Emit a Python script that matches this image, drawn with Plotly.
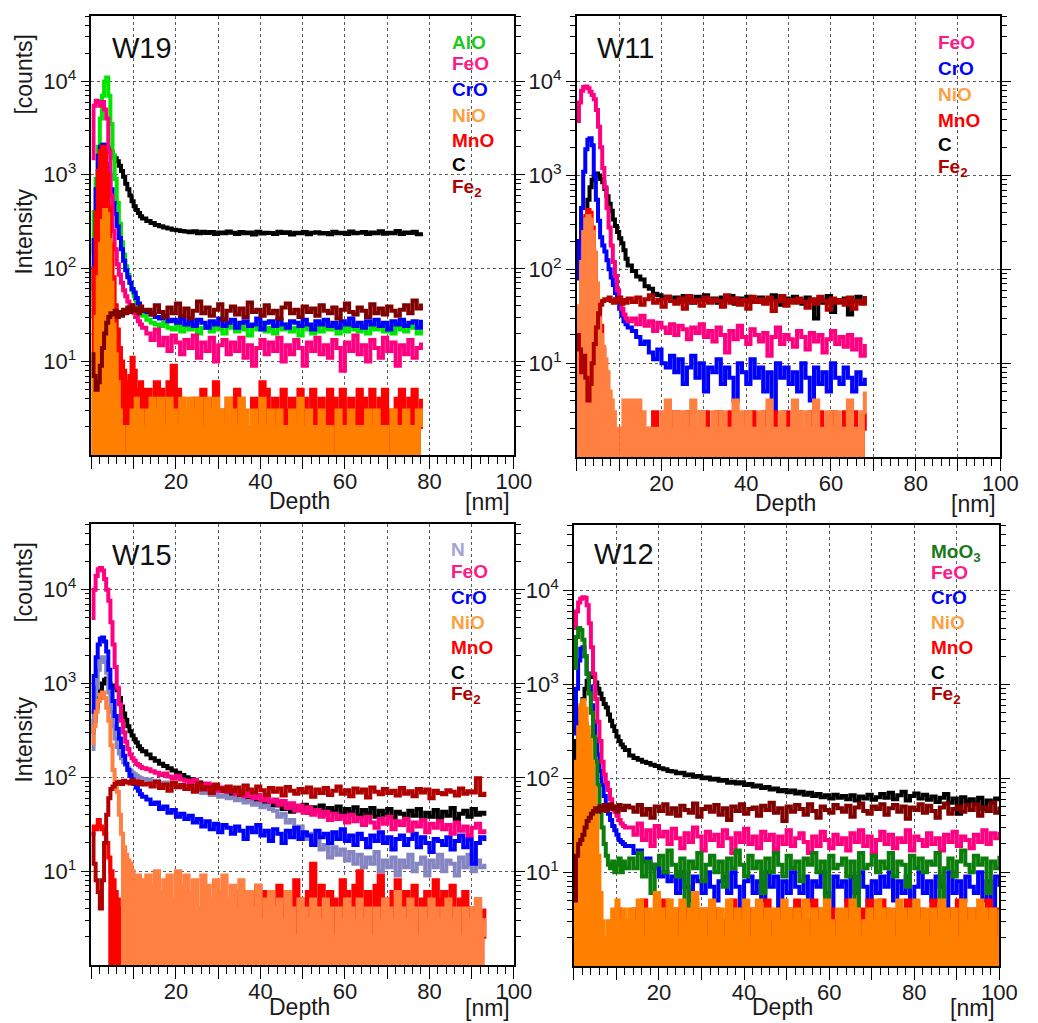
import numpy as np
import plotly.graph_objects as go

W, H = 1038, 1023


def depth_grid(end):
    # 0.5 nm sampling through the surface peak, 1 nm sampling in the bulk
    return np.concatenate([np.arange(0, 12.5, 0.5), np.arange(13, end + 1, 1.0)])


# ---------------- W19 ----------------
W19_DEPTH = depth_grid(78)
W19_ALO = [
    150, 400, 900, 2000, 4000, 7000, 10000, 11000, 7000, 3500, 1600, 900, 500,
    300, 190, 140, 105, 85, 70, 58, 50, 44, 38, 34, 31,
    28, 26, 25, 24, 26, 23, 22, 25, 21, 24,
    22, 25, 20, 23, 24, 21, 26, 22, 20, 24,
    23, 21, 25, 22, 19, 24, 22, 26, 21, 23,
    20, 24, 22, 25, 21, 23, 19, 24, 22, 20,
    25, 21, 23, 22, 24, 20, 23, 21, 25, 22,
    21, 24, 20, 23, 22, 25, 21, 23, 20, 24,
    22, 21, 24, 23, 20, 22,
]
W19_FEO = [
    1500, 5500, 6200, 6000, 5500, 6000, 5000, 4000, 1800, 600, 250, 160, 110,
    85, 70, 58, 50, 44, 40, 36, 33, 30, 27, 25, 23,
    20, 17, 22, 15, 18, 13, 19, 16, 12, 17,
    14, 19, 11, 16, 13, 18, 10, 15, 17, 12,
    16, 13, 18, 11, 15, 9, 14, 17, 12, 16,
    13, 18, 10, 15, 12, 17, 14, 9, 16, 13,
    18, 12, 15, 11, 17, 14, 8, 16, 13, 19,
    12, 15, 10, 17, 14, 11, 18, 13, 16, 9,
    15, 12, 17, 11, 14, 16,
]
W19_CRO = [
    60, 200, 700, 1600, 2000, 2100, 1800, 1300, 1000, 700, 500, 380, 280,
    210, 160, 120, 95, 80, 70, 60, 55, 48, 42, 38, 35,
    34, 32, 30, 29, 31, 27, 28, 26, 29, 25,
    27, 24, 28, 26, 23, 27, 25, 29, 24, 26,
    28, 23, 26, 27, 24, 25, 29, 22, 26, 27,
    24, 28, 25, 23, 27, 26, 24, 28, 25, 22,
    27, 25, 28, 24, 26, 23, 27, 25, 29, 24,
    26, 23, 27, 25, 28, 24, 26, 22, 27, 25,
    28, 24, 26, 27, 23, 28,
]
W19_NIO = [
    3, 10, 30, 80, 180, 320, 420, 380, 200, 70, 25, 12, 6,
    3, 2, 1, 1, 2, 1, 3, 2, 4, 2, 3, 2,
    3, 4, 3, 4, 2, 4, 3, 2, 4, 3,
    4, 3, 4, 2, 4, 3, 4, 3, 2, 4,
    3, 2, 4, 3, 2, 3, 2, 4, 2, 3,
    2, 3, 2, 2, 3, 2, 4, 2, 3, 2,
    2, 3, 2, 2, 1, 3, 2, 2, 3, 2,
    2, 2, 3, 2, 3, 2, 2, 1, 3, 2,
    2, 3, 2, 2, 3, 2,
]
W19_MNO = [
    20, 100, 400, 1100, 1800, 2000, 1700, 1000, 450, 180, 80, 40, 22,
    14, 10, 8, 6, 5, 7, 11, 8, 5, 4, 6, 5,
    5, 4, 6, 5, 4, 6, 9, 5, 4, 3,
    1, 4, 3, 5, 3, 4, 6, 3, 2, 4,
    3, 5, 4, 2, 1, 4, 3, 6, 5, 3,
    4, 2, 5, 3, 4, 1, 5, 4, 3, 5,
    3, 4, 2, 5, 4, 3, 5, 1, 4, 3,
    5, 4, 3, 5, 2, 4, 5, 3, 1, 4,
    5, 3, 4, 5, 2, 4,
]
W19_C = [
    30, 100, 300, 700, 1200, 1800, 2100, 2000, 1900, 1750, 1600, 1500, 1400,
    1250, 1100, 950, 800, 700, 600, 520, 460, 420, 390, 360, 340,
    320, 305, 290, 282, 272, 266, 258, 255, 250, 247,
    242, 248, 236, 245, 238, 244, 233, 241, 236, 247,
    239, 232, 244, 237, 241, 230, 246, 235, 240, 238,
    233, 245, 238, 242, 229, 240, 236, 244, 231, 239,
    242, 235, 238, 231, 245, 237, 240, 233, 247, 236,
    239, 244, 232, 241, 236, 248, 234, 240, 237, 250,
    233, 241, 238, 246, 231, 243,
]
W19_FE2 = [
    12, 7, 5, 6, 9, 14, 20, 26, 30, 33, 32, 35, 30,
    34, 31, 36, 33, 38, 34, 40, 35, 37, 33, 39, 35,
    36, 32, 40, 34, 30, 38, 33, 42, 31, 37,
    29, 35, 44, 33, 38, 31, 36, 41, 28, 35,
    39, 32, 37, 30, 43, 34, 36, 31, 40, 33,
    35, 29, 38, 42, 33, 36, 30, 39, 34, 37,
    31, 40, 35, 33, 38, 29, 36, 42, 34, 32,
    38, 35, 30, 41, 33, 37, 32, 39, 35, 31,
    36, 40, 33, 45, 37, 42,
]

# ---------------- W11 ----------------
W11_DEPTH = depth_grid(68)
W11_FEO = [
    3800, 6000, 8000, 8800, 8900, 8500, 7800, 7200, 6500, 5000, 3300, 2000, 1200,
    750, 450, 280, 180, 120, 85, 60, 45, 38, 33, 30, 28,
    30, 26, 32, 25, 28, 22, 27, 24, 21, 26,
    20, 25, 23, 18, 24, 21, 26, 19, 22, 17,
    24, 20, 13, 22, 18, 25, 19, 16, 23, 20,
    17, 21, 12, 19, 24, 16, 20, 18, 15, 22,
    19, 14, 21, 17, 20, 13, 18, 22, 16, 19,
    15, 20, 14, 18, 12, 16,
]
W11_CRO = [
    80, 200, 450, 1100, 1900, 2400, 2500, 2100, 1000, 550, 330, 220, 180,
    155, 125, 100, 82, 68, 56, 46, 38, 32, 28, 26, 24,
    22, 19, 16, 17, 13, 11, 14, 10, 9, 12,
    8, 11, 6, 9, 12, 7, 10, 5, 9, 8,
    11, 6, 9, 7, 4, 10, 8, 6, 11, 7,
    9, 5, 8, 3, 10, 7, 9, 6, 8, 5,
    10, 7, 4, 9, 6, 8, 5, 10, 7, 6,
    9, 7, 5, 8, 6, 7,
]
W11_NIO = [
    10, 40, 120, 250, 340, 370, 340, 250, 150, 70, 30, 20, 15,
    11, 8, 5, 4, 3, 2, 1, 1, 2, 4, 3, 4,
    4, 4, 3, 2, 2, 2, 2, 3, 4, 2,
    3, 2, 3, 2, 4, 2, 3, 2, 2, 3,
    2, 3, 2, 2, 4, 3, 2, 3, 2, 2,
    3, 2, 4, 2, 2, 3, 2, 2, 4, 3,
    2, 3, 2, 4, 2, 2, 3, 2, 3, 2,
    2, 4, 2, 2, 3, 5,
]
W11_MNO = [
    8, 30, 100, 230, 370, 430, 400, 280, 150, 70, 45, 25, 14,
    8, 4, 2, 1, 1, 1, 1, 1, 2, 2, 2, 2,
    2, 3, 2, 1, 2, 3, 2, 2, 3, 2,
    3, 2, 2, 3, 2, 2, 3, 3, 2, 2,
    3, 2, 2, 3, 2, 2, 2, 3, 3, 2,
    2, 3, 2, 3, 2, 2, 3, 2, 2, 3,
    2, 2, 3, 2, 3, 2, 2, 3, 2, 2,
    3, 2, 3, 2, 2, 3,
]
W11_C = [
    15, 40, 100, 200, 350, 550, 750, 900, 1000, 1050, 1000, 920, 850,
    720, 600, 500, 420, 340, 290, 250, 215, 190, 160, 130, 110,
    96, 84, 78, 66, 62, 55, 53, 49, 51, 46,
    50, 45, 52, 47, 44, 51, 48, 53, 46, 49,
    44, 50, 47, 52, 43, 49, 46, 51, 45, 48,
    50, 44, 48, 53, 46, 42, 49, 45, 51, 47,
    43, 50, 46, 30, 48, 44, 52, 35, 47, 45,
    49, 33, 46, 51, 44, 52,
]
W11_FE2 = [
    20, 14, 8, 12, 7, 4, 6, 10, 16, 24, 34, 42, 46,
    48, 47, 50, 46, 44, 48, 45, 50, 43, 47, 44, 49,
    45, 50, 42, 48, 53, 44, 47, 40, 51, 46,
    43, 49, 38, 52, 45, 47, 41, 50, 44, 48,
    46, 40, 53, 44, 49, 42, 47, 38, 51, 45,
    48, 43, 50, 36, 46, 52, 41, 47, 44, 49,
    45, 39, 48, 43, 51, 46, 37, 49, 44, 47,
    42, 50, 38, 46, 43, 52,
]

# ---------------- W15 ----------------
W15_DEPTH = depth_grid(93)
W15_N = [
    200, 500, 900, 1400, 1800, 1900, 1700, 1300, 800, 500, 350, 260, 210,
    180, 160, 145, 135, 125, 118, 112, 108, 104, 100, 98, 96,
    95, 90, 92, 86, 88, 82, 84, 78, 80, 75,
    77, 72, 74, 68, 70, 65, 67, 62, 64, 60,
    61, 57, 59, 54, 56, 51, 53, 48, 50, 46,
    44, 38, 41, 33, 35, 27, 30, 22, 25, 19,
    21, 17, 19, 14, 18, 15, 17, 13, 16, 12,
    15, 11, 14, 12, 16, 10, 13, 11, 14, 9,
    13, 11, 15, 10, 12, 14, 9, 13, 11, 15,
    10, 13, 12, 9, 14, 11, 15, 10, 13, 11,
    12,
]
W15_FEO = [
    5000, 10000, 14000, 16500, 17000, 16000, 13000, 10000, 7600, 4500, 2600, 1500, 900,
    600, 400, 300, 240, 200, 175, 160, 150, 140, 135, 130, 125,
    122, 116, 112, 106, 110, 102, 98, 104, 95, 92,
    88, 94, 84, 80, 86, 76, 82, 72, 78, 70,
    74, 66, 71, 63, 68, 60, 65, 57, 62, 55,
    58, 51, 56, 47, 53, 44, 50, 42, 48, 40,
    45, 38, 43, 35, 41, 36, 39, 33, 40, 34,
    37, 31, 38, 33, 29, 36, 32, 38, 28, 34,
    31, 36, 27, 33, 30, 35, 26, 32, 29, 34,
    28, 31, 25, 33, 27, 30, 24, 29, 32, 26,
    28,
]
W15_CRO = [
    500, 1200, 1900, 2600, 3000, 3100, 2800, 2200, 1400, 900, 650, 450, 330,
    260, 210, 170, 140, 120, 105, 95, 85, 78, 72, 66, 62,
    58, 52, 54, 46, 49, 42, 45, 38, 41, 36,
    39, 33, 36, 30, 34, 28, 32, 26, 31, 29,
    25, 30, 27, 22, 29, 26, 31, 24, 27, 21,
    28, 25, 20, 27, 23, 29, 22, 26, 24, 19,
    27, 23, 25, 20, 26, 22, 28, 21, 24, 19,
    25, 22, 18, 24, 21, 26, 20, 23, 17, 22,
    24, 19, 22, 25, 18, 23, 20, 16, 22, 21,
    19, 23, 17, 21, 24, 18, 22, 12, 20, 23,
    21,
]
W15_NIO = [
    230, 350, 500, 650, 760, 800, 700, 550, 400, 220, 120, 90, 70,
    40, 25, 18, 15, 13, 12, 10, 9, 8, 9, 7, 8,
    9, 7, 10, 6, 8, 9, 5, 10, 7, 9,
    6, 8, 4, 9, 7, 5, 8, 6, 9, 5,
    7, 4, 8, 5, 6, 4, 7, 3, 5, 6,
    4, 5, 3, 6, 4, 2, 5, 4, 3, 5,
    4, 3, 5, 4, 2, 4, 3, 5, 4, 3,
    5, 3, 4, 2, 4, 3, 5, 4, 3, 6,
    4, 3, 5, 4, 2, 4, 3, 5, 4, 3,
    4, 5, 3, 4, 2, 4, 3, 4, 5, 3,
    2,
]
W15_MNO = [
    25, 30, 28, 35, 30, 28, 25, 20, 14, 10, 8, 6, 5,
    4, 3, 8, 4, 2, 3, 7, 3, 2, 1, 3, 2,
    4, 3, 5, 2, 4, 1, 3, 5, 2, 1,
    3, 1, 4, 2, 1, 3, 5, 2, 4, 3,
    5, 3, 6, 4, 2, 5, 7, 4, 6, 3,
    5, 7, 4, 6, 3, 8, 5, 4, 6, 12,
    5, 7, 4, 6, 5, 3, 8, 6, 4, 7,
    10, 5, 6, 4, 7, 9, 5, 3, 6, 8,
    4, 6, 5, 7, 3, 5, 6, 4, 8, 5,
    6, 4, 7, 3, 5, 6, 4, 3, 5, 2,
    4,
]
W15_C = [
    300, 400, 550, 700, 850, 1000, 1100, 1130, 1000, 950, 950, 900, 850,
    700, 570, 480, 410, 350, 310, 280, 255, 235, 215, 200, 190,
    175, 160, 150, 140, 132, 125, 118, 112, 106, 100,
    96, 92, 88, 85, 82, 78, 76, 73, 71, 69,
    66, 64, 62, 60, 58, 57, 55, 54, 52, 51,
    50, 55, 46, 52, 43, 49, 45, 51, 42, 48,
    44, 50, 41, 47, 43, 49, 40, 46, 42, 48,
    39, 45, 41, 47, 38, 44, 40, 46, 37, 43,
    41, 36, 44, 39, 46, 35, 42, 38, 45, 37,
    43, 39, 47, 36, 41, 44, 38, 46, 40, 42,
    39,
]
W15_FE2 = [
    25, 12, 8, 6, 4, 8, 20, 40, 60, 75, 80, 85, 88,
    90, 85, 92, 88, 90, 86, 93, 87, 91, 85, 89, 84,
    86, 80, 90, 77, 84, 72, 88, 79, 83, 75,
    81, 70, 86, 74, 79, 68, 84, 76, 72, 80,
    71, 78, 66, 82, 74, 69, 80, 73, 65, 77,
    70, 76, 64, 79, 72, 67, 75, 69, 78, 62,
    74, 68, 77, 65, 72, 80, 67, 73, 63, 76,
    69, 74, 61, 78, 70, 66, 75, 68, 72, 64,
    77, 67, 71, 63, 75, 69, 74, 60, 72, 68,
    66, 73, 70, 64, 76, 67, 71, 69, 98, 65,
    70,
]

# ---------------- W12 ----------------
W12_DEPTH = depth_grid(100)
W12_MOO3 = [
    1500, 3200, 4000, 3800, 3000, 2000, 1300, 800, 500, 280, 150, 85, 50,
    30, 20, 15, 12, 11, 13, 10, 12, 14, 10, 13, 11,
    14, 11, 16, 9, 13, 6, 12, 15, 10, 17,
    12, 9, 14, 2, 13, 11, 16, 8, 12, 15,
    10, 13, 7, 14, 11, 17, 12, 9, 15, 11,
    13, 6, 14, 10, 16, 12, 9, 15, 11, 13,
    8, 14, 12, 16, 10, 13, 5, 15, 11, 12,
    14, 9, 13, 4, 16, 11, 12, 15, 10, 13,
    11, 16, 9, 13, 12, 7, 15, 11, 14, 10,
    13, 12, 16, 2, 11, 14, 9, 13, 17, 12,
    10, 15, 12, 14, 6, 13, 11, 15,
]
W12_FEO = [
    4000, 6000, 7500, 8200, 8500, 8400, 7000, 4500, 2500, 1300, 700, 400, 250,
    150, 110, 90, 75, 60, 50, 44, 40, 36, 33, 31, 30,
    30, 25, 33, 22, 28, 19, 31, 24, 27, 20,
    29, 23, 18, 26, 21, 30, 24, 17, 27, 22,
    25, 19, 28, 23, 16, 26, 21, 29, 20, 24,
    18, 27, 22, 25, 17, 24, 20, 28, 19, 23,
    26, 21, 16, 24, 19, 27, 22, 18, 25, 20,
    23, 17, 26, 21, 28, 19, 24, 16, 22, 27,
    20, 25, 18, 23, 21, 28, 17, 24, 22, 19,
    26, 20, 23, 17, 25, 21, 27, 19, 24, 22,
    18, 25, 21, 28, 20, 26, 23, 27,
]
W12_CRO = [
    300, 900, 1800, 2400, 2500, 2000, 1300, 950, 600, 400, 260, 180, 120,
    85, 65, 50, 42, 36, 31, 28, 25, 22, 21, 20, 19,
    19, 16, 17, 13, 14, 11, 12, 9, 10, 8,
    9, 6, 10, 7, 5, 9, 8, 6, 10, 7,
    5, 8, 9, 6, 10, 7, 4, 8, 9, 6,
    8, 5, 10, 7, 9, 4, 8, 6, 10, 7,
    6, 9, 5, 8, 7, 10, 6, 4, 9, 7,
    8, 5, 9, 6, 10, 7, 4, 8, 6, 9,
    7, 10, 5, 8, 6, 9, 4, 7, 10, 6,
    8, 5, 9, 7, 4, 10, 6, 8, 5, 9,
    7, 6, 10, 5, 8, 4, 9, 7,
]
W12_NIO = [
    40, 150, 350, 600, 680, 550, 350, 250, 150, 80, 40, 15, 6,
    3, 1, 2, 3, 1, 4, 2, 5, 3, 2, 4, 3,
    4, 3, 5, 2, 4, 3, 6, 4, 3, 5,
    4, 2, 5, 3, 4, 6, 3, 4, 2, 5,
    3, 4, 2, 5, 3, 4, 3, 5, 2, 4,
    5, 3, 4, 2, 4, 3, 5, 4, 3, 4,
    3, 5, 2, 4, 3, 4, 5, 3, 2, 4,
    4, 3, 5, 4, 2, 3, 4, 3, 5, 4,
    3, 4, 2, 5, 4, 3, 4, 5, 3, 4,
    2, 4, 3, 5, 4, 3, 4, 2, 5, 3,
    4, 3, 5, 4, 3, 4, 2, 4,
]
W12_MNO = [
    10, 40, 110, 230, 350, 380, 280, 150, 70, 30, 12, 5, 2,
    1, 1, 1, 2, 1, 3, 1, 2, 4, 2, 1, 3,
    3, 4, 2, 5, 3, 2, 4, 3, 5, 2,
    3, 4, 2, 4, 3, 5, 2, 4, 3, 3,
    4, 2, 3, 4, 5, 2, 4, 3, 4, 2,
    3, 4, 5, 3, 2, 4, 3, 2, 4, 5,
    4, 2, 3, 5, 4, 2, 3, 4, 3, 2,
    3, 5, 2, 3, 4, 2, 5, 4, 3, 5,
    4, 2, 3, 4, 2, 5, 3, 2, 4, 3,
    3, 5, 4, 2, 3, 4, 3, 5, 2, 4,
    3, 4, 2, 3, 5, 3, 4, 2,
]
W12_C = [
    150, 250, 400, 550, 700, 900, 1100, 1250, 1300, 1200, 1050, 900, 800,
    700, 620, 570, 480, 410, 360, 320, 280, 250, 230, 215, 200,
    175, 165, 158, 150, 146, 140, 135, 128, 125, 120,
    118, 113, 115, 108, 110, 104, 106, 100, 102, 97,
    99, 94, 96, 90, 92, 88, 91, 85, 87, 82,
    84, 79, 81, 76, 78, 73, 75, 71, 74, 69,
    72, 67, 70, 65, 68, 63, 66, 61, 67, 62,
    65, 60, 66, 58, 64, 61, 67, 59, 63, 68,
    62, 70, 60, 66, 72, 58, 65, 69, 61, 67,
    59, 64, 56, 62, 68, 55, 61, 42, 63, 57,
    60, 54, 62, 47, 58, 55, 61, 57,
]
W12_FE2 = [
    5, 15, 20, 22, 25, 30, 35, 38, 42, 45, 48, 44, 50,
    46, 52, 45, 49, 53, 47, 50, 44, 52, 48, 46, 51,
    49, 44, 52, 41, 47, 38, 50, 45, 53, 42,
    48, 40, 51, 46, 43, 54, 39, 47, 50, 44,
    52, 41, 48, 36, 50, 45, 53, 42, 47, 49,
    40, 51, 46, 55, 43, 48, 35, 50, 44, 52,
    47, 41, 53, 45, 38, 50, 46, 43, 52, 48,
    44, 51, 39, 49, 54, 45, 42, 50, 47, 53,
    41, 48, 52, 44, 50, 37, 49, 46, 53, 43,
    51, 45, 38, 49, 54, 42, 47, 50, 44, 52,
    46, 53, 40, 49, 45, 55, 43, 50,
]

# ---------------- styling ----------------
GREEN, PINK, BLUE, RED, BLACK = "#00e600", "#ff0080", "#0000ff", "#ff0000", "#000000"
ORANGE, CORAL = "#ff8000", "#ff8040"
MAROON, DARKRED = "#800000", "#b00000"
LAVENDER, DKGREEN = "#8585c2", "#0a7d0a"

LEG = {
    "AlO": ("AlO", "#1ccc1c"), "N": ("N", "#a3a3d6"),
    "MoO3": ("MoO<sub>3</sub>", "#1a7a1a"),
    "FeO": ("FeO", "#ff1a85"), "CrO": ("CrO", "#0000ff"),
    "NiO": ("NiO", "#ffa040"), "MnO": ("MnO", "#ff0000"),
    "C": ("C", "#000000"), "Fe2": ("Fe<sub>2</sub>", "#b00000"),
}

# each trace: (values, colour, depth from which the area beneath is filled or None)
PANELS = [
    dict(title="W19", depth=W19_DEPTH, px=(93, 523), py=(16, 455), tpos=(144, 48),
         traces=[(W19_C, BLACK, None), (W19_ALO, GREEN, None), (W19_CRO, BLUE, None),
                 (W19_FEO, PINK, None), (W19_MNO, RED, 0), (W19_NIO, ORANGE, 0),
                 (W19_FE2, MAROON, None)],
         legend=["AlO", "FeO", "CrO", "NiO", "MnO", "C", "Fe2"],
         lx=458, ly=[43, 64, 89, 115, 140, 165, 188], cap=46),
    dict(title="W11", depth=W11_DEPTH, px=(587, 1018), py=(16, 457), tpos=(637, 48),
         traces=[(W11_C, BLACK, None), (W11_CRO, BLUE, None), (W11_FEO, PINK, None),
                 (W11_MNO, RED, 0), (W11_NIO, CORAL, 0), (W11_FE2, DARKRED, None)],
         legend=["FeO", "CrO", "NiO", "MnO", "C", "Fe2"],
         lx=953, ly=[43, 69, 94, 120, 145, 168], cap=46),
    dict(title="W15", depth=W15_DEPTH, px=(93, 523), py=(524, 965), tpos=(144, 555),
         traces=[(W15_C, BLACK, None), (W15_N, LAVENDER, None), (W15_CRO, BLUE, None),
                 (W15_FEO, PINK, None), (W15_MNO, RED, 4), (W15_NIO, CORAL, 7),
                 (W15_FE2, DARKRED, None)],
         legend=["N", "FeO", "CrO", "NiO", "MnO", "C", "Fe2"],
         lx=457, ly=[549, 571, 597, 622, 647, 672, 695], cap=42),
    dict(title="W12", depth=W12_DEPTH, px=(584, 1017), py=(525, 966), tpos=(635, 554),
         traces=[(W12_C, BLACK, None), (W12_CRO, BLUE, None), (W12_FEO, PINK, None),
                 (W12_MOO3, DKGREEN, None), (W12_MNO, RED, 0), (W12_NIO, ORANGE, 0),
                 (W12_FE2, MAROON, None)],
         legend=["MoO3", "FeO", "CrO", "NiO", "MnO", "C", "Fe2"],
         lx=945, ly=[553, 572, 597, 622, 647, 672, 695], cap=41),
]

FONT = "Liberation Sans, Arial, sans-serif"
GRID = dict(showgrid=True, gridcolor="#5a5a5a", gridwidth=1, griddash="3px,3px")

Y_MINOR = [m * 10 ** e for e in range(0, 5) for m in range(2, 10)]

fig = go.Figure()
annotations = []
layout = {}

for i, p in enumerate(PANELS):
    n = "" if i == 0 else str(i + 1)
    xref, yref = "x" + n, "y" + n
    depth = p["depth"]
    for vals, color, fill_from in p["traces"]:
        vals = np.asarray(vals, dtype=float)
        if len(vals) != len(depth):
            raise ValueError(f"{p['title']}: {len(vals)} values vs {len(depth)} depths")
        if fill_from is not None:
            sel = depth >= fill_from
            fig.add_trace(go.Scatter(
                x=depth[sel], y=vals[sel], mode="lines", line=dict(width=0, shape="hv"),
                fill="tozeroy", fillcolor=color, xaxis=xref, yaxis=yref,
                showlegend=False, hoverinfo="skip"))
        fig.add_trace(go.Scatter(
            x=depth, y=vals, mode="lines", line=dict(color=color, width=4, shape="hv"),
            xaxis=xref, yaxis=yref, showlegend=False))

    x0, x1 = p["px"]
    ytop, ybot = p["py"]
    layout["xaxis" + n] = dict(
        domain=[x0 / W, x1 / W], anchor=yref, range=[0, 100],
        tickmode="array", tickvals=list(range(0, 101, 10)),
        ticktext=["" if v % 20 or v == 0 else str(v) for v in range(0, 101, 10)],
        ticks="outside", ticklen=12, tickwidth=1.2, tickcolor="black",
        ticklabelstandoff=-6,
        minor=dict(dtick=2, tick0=0, ticks="outside", ticklen=7, tickwidth=1, tickcolor="black"),
        showline=True, linecolor="black", linewidth=1.5, mirror=True,
        zeroline=False, tickfont=dict(family=FONT, size=22, color="#1a1a1a"), **GRID)
    layout["yaxis" + n] = dict(
        domain=[1 - ybot / H, 1 - ytop / H], anchor=xref, type="log", range=[0, 4.7],
        tickmode="array", tickvals=[10, 100, 1000, 10000],
        ticktext=["10<sup>1</sup>", "10<sup>2</sup>", "10<sup>3</sup>", "10<sup>4</sup>"],
        ticks="outside", ticklen=9, tickwidth=1.2, tickcolor="black",
        minor=dict(tickmode="array", tickvals=Y_MINOR, ticks="outside", ticklen=5,
                   tickwidth=1, tickcolor="black"),
        showline=True, linecolor="black", linewidth=1.5, mirror="allticks",
        zeroline=False, tickfont=dict(family=FONT, size=22, color="#1a1a1a"), **GRID)

    # panel label
    tx, ty = p["tpos"]
    annotations.append(dict(text=p["title"], x=tx / W, y=1 - ty / H, xref="paper", yref="paper",
                            showarrow=False, xanchor="center", yanchor="middle",
                            font=dict(family=FONT, size=29, color="#111111")))
    # coloured species labels
    for key, yy in zip(p["legend"], p["ly"]):
        label, col = LEG[key]
        annotations.append(dict(text=f"<b>{label}</b>", x=p["lx"] / W, y=1 - yy / H,
                                xref="paper", yref="paper", showarrow=False,
                                xanchor="left", yanchor="middle",
                                font=dict(family=FONT, size=19, color=col)))
    # axis captions
    cap = p["cap"]
    annotations.append(dict(text="Depth", x=(x0 + 212) / W, y=1 - (ybot + cap) / H,
                            xref="paper", yref="paper", showarrow=False,
                            xanchor="center", yanchor="middle",
                            font=dict(family=FONT, size=23, color="#1a1a1a")))
    annotations.append(dict(text="[nm]", x=(x1 - 27) / W, y=1 - (ybot + cap + 1) / H,
                            xref="paper", yref="paper", showarrow=False,
                            xanchor="center", yanchor="middle",
                            font=dict(family=FONT, size=23, color="#1a1a1a")))
    if i in (0, 2):
        for text, yy in (("[counts]", ytop + 58), ("Intensity", ytop + 216)):
            annotations.append(dict(text=text, x=24 / W, y=1 - yy / H, xref="paper",
                                    yref="paper", showarrow=False, textangle=-90,
                                    xanchor="center", yanchor="middle",
                                    font=dict(family=FONT, size=23, color="#1a1a1a")))

fig.update_layout(
    width=W, height=H, margin=dict(l=0, r=0, t=0, b=0),
    paper_bgcolor="white", plot_bgcolor="white",
    annotations=annotations, **layout)

fig.write_html("out.html")
